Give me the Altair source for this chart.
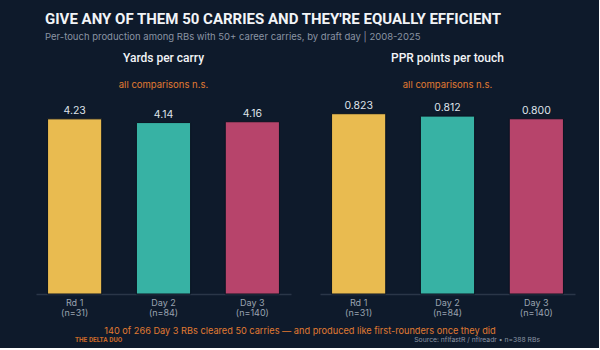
import altair as alt
import pandas as pd

# Draft-day groups and per-touch efficiency for RBs with 50+ career carries
groups = ["Rd 1", "Day 2", "Day 3"]
counts = [31, 84, 140]
yards_per_carry = [4.23, 4.14, 4.16]
ppr_per_touch = [0.823, 0.812, 0.800]
group_colors = ["#E9BB50", "#37B2A4", "#B7446B"]

BG = "#0E1A2B"
ORANGE = "#E07A32"
HEAD_FONT = "Roboto"
BODY_FONT = "Inter, 'Noto Sans', sans-serif"

df = pd.DataFrame({
    "group": groups,
    "label": [f"{g}\n(n={n})" for g, n in zip(groups, counts)],
    "ypc": yards_per_carry,
    "ppr": ppr_per_touch,
})

W, H = 255, 200


def panel(field, fmt, domain_max, title, footer=False):
    x = alt.X(
        "label:N",
        sort=None,
        scale=alt.Scale(paddingInner=0.39, paddingOuter=0.13),
        axis=alt.Axis(
            title=None,
            labelAngle=0,
            labelExpr="split(datum.value, '\\n')",
            labelColor="#9AA3B0",
            labelFont=BODY_FONT,
            labelFontSize=9,
            labelLineHeight=10,
            labelPadding=4,
            domainColor="#2A3648",
            domainWidth=1.5,
            ticks=False,
        ),
    )
    y = alt.Y(f"{field}:Q", scale=alt.Scale(domain=[0, domain_max], nice=False), axis=None)
    base = alt.Chart(df).encode(x=x, y=y)
    bars = base.mark_bar(stroke="#0A1320", strokeWidth=1).encode(
        color=alt.Color("group:N", scale=alt.Scale(domain=groups, range=group_colors), legend=None)
    )
    labels = base.mark_text(
        baseline="bottom", dy=-3, font=BODY_FONT, fontSize=10.5, color="#DFE3EA"
    ).encode(text=alt.Text(f"{field}:Q", format=fmt))
    layers = [bars, labels]
    if footer:
        caption = alt.Chart(pd.DataFrame({"t": ["140 of 266 Day 3 RBs cleared 50 carries \u2014 and produced like first-rounders once they did"]})).mark_text(
            font=BODY_FONT, fontSize=9.2, color=ORANGE, align="center", baseline="middle"
        ).encode(text="t:N", x=alt.value(264), y=alt.value(236.5))
        brand = alt.Chart(pd.DataFrame({"t": ["THE DELTA DUO"]})).mark_text(
            font=HEAD_FONT, fontSize=6.5, fontWeight="bold", color="#C8692A", align="left", baseline="middle"
        ).encode(text="t:N", x=alt.value(39), y=alt.value(245.5))
        source = alt.Chart(pd.DataFrame({"t": ["Source: nflfastR / nflreadr  \u2022  n=388 RBs"]})).mark_text(
            font=BODY_FONT, fontSize=6.8, color="#8A94A3", align="right", baseline="middle"
        ).encode(text="t:N", x=alt.value(504), y=alt.value(245.5))
        layers += [caption, brand, source]
    return alt.layer(*layers).properties(
        width=W,
        height=H,
        title=alt.TitleParams(
            title,
            subtitle="all comparisons n.s.",
            font=HEAD_FONT,
            fontSize=12,
            fontWeight=500,
            color="#F2F4F7",
            subtitleFont=BODY_FONT,
            subtitleFontSize=9.5,
            subtitleColor=ORANGE,
            subtitlePadding=15,
            offset=4,
            anchor="middle",
        ),
    )


left = panel("ypc", ".2f", 4.83, "Yards per carry", footer=True)
right = panel("ppr", ".3f", 0.913, "PPR points per touch")

chart = (
    alt.hconcat(left, right, spacing=29, bounds="flush")
    .properties(
        background=BG,
        padding={"left": 36, "top": 12, "right": 24, "bottom": 4},
        title=alt.TitleParams(
            "GIVE ANY OF THEM 50 CARRIES AND THEY'RE EQUALLY EFFICIENT",
            subtitle="Per-touch production among RBs with 50+ career carries, by draft day | 2008-2025",
            font=HEAD_FONT,
            fontSize=15,
            fontWeight="bold",
            color="#F2F4F7",
            subtitleFont=BODY_FONT,
            subtitleFontSize=9.5,
            subtitleColor="#8A94A3",
            subtitlePadding=5,
            anchor="start",
            dx=9,
            offset=10,
        ),
    )
    .configure_view(stroke=None)
)

chart.save("out.html", embed_options={"renderer": "svg", "actions": False})
